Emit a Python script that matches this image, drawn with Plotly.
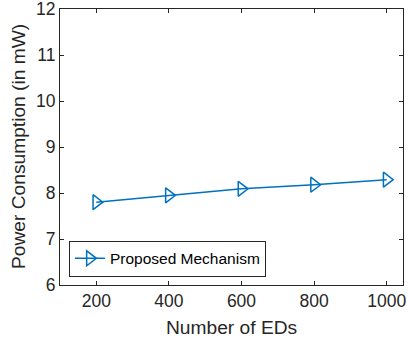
import plotly.graph_objects as go

num_eds = [200, 400, 600, 800, 1000]
power_mw = [7.80, 7.95, 8.09, 8.18, 8.29]
series_name = "Proposed Mechanism"
x_ticks = [200, 400, 600, 800, 1000]
y_ticks = [6, 7, 8, 9, 10, 11, 12]
x_title = "Number of EDs"
y_title = "Power Consumption (in mW)"

font_family = "Liberation Sans, Arial, Helvetica, sans-serif"
txt = "#262626"

fig = go.Figure()
fig.add_trace(go.Scatter(
    x=num_eds, y=power_mw, name=series_name, mode="lines+markers",
    line=dict(color="#0072BD", width=1.5),
    marker=dict(symbol="triangle-right-open", size=13, color="#0072BD",
                line=dict(width=1.5, color="#0072BD")),
    showlegend=True,
))

axis_common = dict(
    showline=True, linecolor="#262626", linewidth=1, mirror="ticks",
    ticks="inside", ticklen=4, tickwidth=1, tickcolor="#262626",
    showgrid=False, zeroline=False, automargin=False,
    ticklabeloverflow="allow",
    tickfont=dict(family=font_family, size=17.5, color=txt),
)

fig.update_layout(
    width=408, height=343,
    margin=dict(l=60, r=5, t=9, b=58),
    paper_bgcolor="white", plot_bgcolor="white",
    font=dict(family=font_family, color=txt),
    xaxis=dict(range=[100, 1045], tickvals=x_ticks, **axis_common),
    yaxis=dict(range=[6, 12], tickvals=y_ticks, **axis_common),
    legend=dict(x=0.026, y=0.03, xanchor="left", yanchor="bottom",
                bgcolor="white", bordercolor="#262626", borderwidth=1,
                font=dict(family=font_family, size=15.5, color="black"),
                itemwidth=30, tracegroupgap=0),
    annotations=[
        dict(text=x_title, xref="paper", yref="paper", x=0.5, y=0, yshift=-42,
             xanchor="center", yanchor="middle", showarrow=False,
             font=dict(family=font_family, size=19.2, color=txt)),
        dict(text=y_title, xref="paper", yref="paper", x=0, y=0.5, xshift=-42,
             xanchor="center", yanchor="middle", textangle=-90, showarrow=False,
             font=dict(family=font_family, size=19.2, color=txt)),
    ],
)

fig.write_html("out.html", config={"displayModeBar": False},
               post_script="document.body.style.margin='0';document.body.style.overflow='hidden';")
